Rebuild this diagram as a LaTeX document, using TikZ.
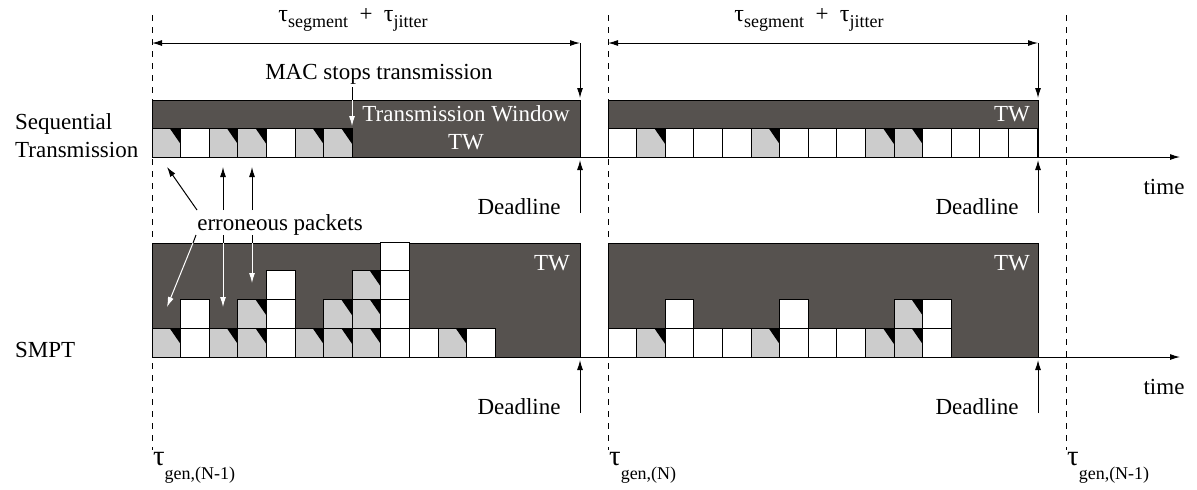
\documentclass[tikz,border=0pt]{standalone}
\usepackage{fontspec}
\setmainfont{Liberation Serif}
\usetikzlibrary{positioning,arrows.meta}

\definecolor{twdark}{RGB}{86,82,79}
\definecolor{pktgray}{RGB}{204,204,204}
\def\pw{28.6}
\def\ph{28.7}
% packet with lower left corner at (#2,#3), #1 = o (ok) or e (erroneous)
\newcommand{\pkt}[3]{%
  \if#1e
    \fill[pktgray] (#2,#3) rectangle ++(\pw,-\ph);
    \fill[black] (#2+0.62*\pw,#3-\ph) -- ++(0.38*\pw,0) -- ++(0,0.55*\ph) -- cycle;
  \else
    \fill[white] (#2,#3) rectangle ++(\pw,-\ph);
  \fi
  \draw (#2,#3) rectangle ++(\pw,-\ph);}
\newcommand{\tsub}[1]{{\large τ}\raisebox{-0.6ex}{\small #1}}
\newcommand{\tgen}[1]{{\Large τ}\raisebox{-1.3ex}{\small gen,(#1)}}

\tikzset{
  twbox/.style={fill=twdark,draw=black},
  twtext/.style={text=white},
  gline/.style={dashed,dash pattern=on 3pt off 3pt},
  >={Latex[length=5pt,width=3pt]}
}

\begin{document}
\begin{tikzpicture}[x=0.5pt,y=-0.5pt,line width=0.5pt,font=\fontsize{11.5}{14}\selectfont]
  \useasboundingbox (0,0) rectangle (1197,489);

  %generation instants
  \foreach \gx in {152,608,1066}
    \draw[gline] (\gx,15) -- (\gx,450);
  \node[anchor=west] (g1) at (146,468) {\tgen{N-1}};
  \node[anchor=west] (g2) at (602,468) {\tgen{N}};
  \node[anchor=west] (g3) at (1060,468) {\tgen{N-1}};

  %segment + jitter
  \node (span1) at (353,20) {\tsub{segment}\ \ +\ \ \tsub{jitter}};
  \node (span2) at (809,20) {\tsub{segment}\ \ +\ \ \tsub{jitter}};
  \coordinate (s1a) at (152,43); \coordinate (s1b) at (580,43);
  \coordinate (s2a) at (608,43); \coordinate (s2b) at (1038,43);
  \draw[<->] (s1a) -- (s1b);
  \draw[<->] (s2a) -- (s2b);
  \draw[->] (s1b) -- (580,98);
  \draw[->] (s2b) -- (1038,98);

  %sequential transmission
  \node[anchor=west,align=left] (seq) at (8,136) {Sequential\\Transmission};
  \draw[twbox] (152,100) rectangle (580,157);
  \draw[twbox] (608,100) rectangle (1038,157);
  \foreach \t [count=\i from 0] in {e,o,e,e,o,e,e}
    {\pkt{\t}{152+\i*\pw}{157}}
  \foreach \t [count=\i from 0] in {o,e,o,o,o,e,o,o,o,e,e,o,o,o,o}
    {\pkt{\t}{608+\i*\pw}{157}}
  \node[twtext] (tw1) at (466,114) {Transmission Window};
  \node[twtext] (tw1b) at (466,142) {TW};
  \node[twtext] (tw2) at (1012,114) {TW};

  %MAC stops
  \node (mac) at (379,74) {MAC stops transmission};
  \coordinate (macin) at (352,100);
  \draw (352,87) -- (macin);
  \draw[white,->] (macin) -- (352,126);

  %SMPT
  \node[anchor=west] (smpt) at (8,350) {SMPT};
  \draw[twbox] (152,243) rectangle (580,357);
  \draw[twbox] (608,243) rectangle (1038,357);
  \foreach \c/\r/\t in {0/0/e,1/0/o,1/1/o,2/0/e,3/0/e,3/1/e,4/0/o,4/1/o,4/2/o,
      5/0/e,6/0/e,6/1/e,7/0/e,7/1/e,7/2/e,8/0/o,8/1/o,8/2/o,8/3/o,9/0/o,10/0/e,11/0/o}
    {\pkt{\t}{152+\c*\pw}{357-\r*\ph}}
  \foreach \c/\r/\t in {0/0/o,1/0/e,2/0/o,2/1/o,3/0/o,4/0/o,5/0/e,6/0/o,6/1/o,
      7/0/o,8/0/o,9/0/e,10/0/e,10/1/e,11/0/o,11/1/o}
    {\pkt{\t}{608+\c*\pw}{357-\r*\ph}}
  \node[twtext] (tw3) at (552,263) {TW};
  \node[twtext] (tw4) at (1012,263) {TW};

  %erroneous packets
  \node (err) at (280,225) {erroneous packets};
  \draw[->] (197,210) -- (167,167);
  \draw[->] (223,210) -- (223,167);
  \draw[->] (252,210) -- (252,167);
  \coordinate (e1) at (193,243); \coordinate (e2) at (223,243); \coordinate (e3) at (252,243);
  \draw (196,235) -- (e1);
  \draw (223,235) -- (e2);
  \draw (252,235) -- (e3);
  \draw[white,->] (e1) -- (167,307);
  \draw[white,->] (e2) -- (223,307);
  \draw[white,->] (e3) -- (252,283);

  %time axes
  \draw[->] (152,157) -- (1180,157);
  \draw[->] (152,357) -- (1180,357);
  \node (time1) at (1164,187) {time};
  \node (time2) at (1164,387) {time};

  %deadlines
  \node (dl1) at (519,207) {Deadline};
  \node (dl2) at (977,207) {Deadline};
  \node (dl3) at (519,407) {Deadline};
  \node (dl4) at (977,407) {Deadline};
  \draw[->] (580,213) -- (580,160);
  \draw[->] (1038,213) -- (1038,160);
  \draw[->] (580,413) -- (580,360);
  \draw[->] (1038,413) -- (1038,360);
\end{tikzpicture}
\end{document}
